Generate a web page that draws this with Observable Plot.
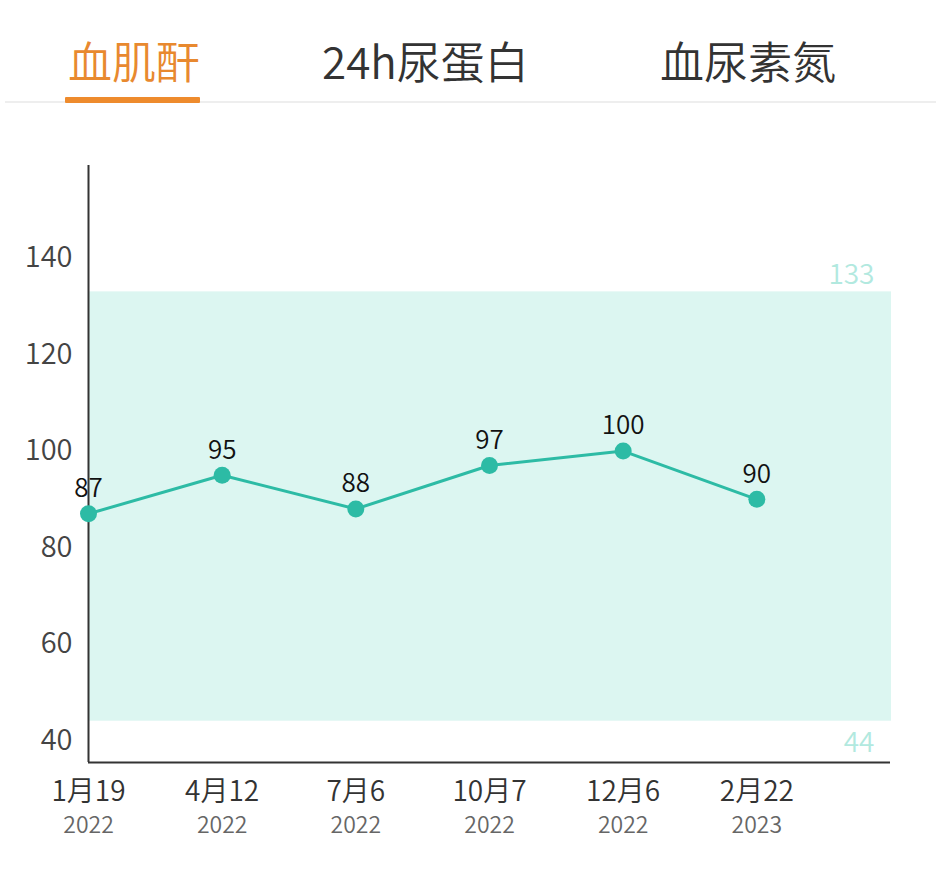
<!DOCTYPE html>
<html>
<head>
<meta charset="utf-8">
<script src="https://cdn.jsdelivr.net/npm/d3@7"></script>
<script src="https://cdn.jsdelivr.net/npm/@observablehq/plot@0.6"></script>
<style>
  html, body { margin: 0; padding: 0; background: #ffffff; }
  body { width: 941px; height: 874px; position: relative; overflow: hidden; font-family: "Noto Sans CJK SC", "Noto Sans", sans-serif; }
  #tabs { position: absolute; left: 0; top: 0; width: 941px; height: 105px; }
  .tab { position: absolute; top: 38px; font-size: 44px; line-height: 44px; color: #333; white-space: nowrap; font-weight: 350; }
  .tab.active { color: #e8892f; }
  #underline { position: absolute; left: 65px; top: 97px; width: 135px; height: 6px; background: #ee8b2d; border-radius: 1px; }
  #sep { position: absolute; left: 5px; top: 101px; width: 931px; height: 2px; background: #eeeeee; }
  #chart { position: absolute; left: 0; top: 105px; }
</style>
</head>
<body>
<div id="tabs"></div>
<div id="chart"></div>
<script>
const tabs = ["血肌酐", "24h尿蛋白", "血尿素氮"];
const tabLeft = [68, 322, 660];
const dates = ["1月19", "4月12", "7月6", "10月7", "12月6", "2月22"];
const years = ["2022", "2022", "2022", "2022", "2022", "2023"];
const values = [87, 95, 88, 97, 100, 90];
const refLow = 44;
const refHigh = 133;
const yTicks = [40, 60, 80, 100, 120, 140];

// tabs
const tabsEl = document.getElementById("tabs");
tabs.forEach((t, i) => {
  const d = document.createElement("div");
  d.className = "tab" + (i === 0 ? " active" : "");
  d.style.left = tabLeft[i] + "px";
  d.textContent = t;
  tabsEl.appendChild(d);
});
const sep = document.createElement("div"); sep.id = "sep"; tabsEl.appendChild(sep);
const ul = document.createElement("div"); ul.id = "underline"; tabsEl.appendChild(ul);

const data = dates.map((d, i) => ({i, date: d, year: years[i], value: values[i]}));
const yMin = 35.44, yMax = 159.2;

const chart = Plot.plot({
  width: 941,
  height: 769,
  marginTop: 60,
  marginBottom: 112,
  marginLeft: 88,
  marginRight: 51,
  style: {fontFamily: "'Noto Sans CJK SC', 'Noto Sans', sans-serif", fontWeight: 350, background: "transparent"},
  x: {domain: [0, 6], axis: null},
  y: {domain: [yMin, yMax], axis: null},
  marks: [
    Plot.rectY([{a: refLow, b: refHigh}], {x1: 0, x2: 6, y1: "a", y2: "b", fill: "#dcf6f1", dx: 1}),
    Plot.text([refHigh], {x: 6, y: d => d, text: d => String(d), textAnchor: "end", dx: -16, dy: -17, fontSize: 28, fill: "#b2e9df"}),
    Plot.text([refLow], {x: 6, y: d => d, text: d => String(d), textAnchor: "end", dx: -16, dy: 22, fontSize: 28, fill: "#b2e9df"}),
    Plot.axisY({ticks: yTicks, tickSize: 0, tickPadding: 16, fontSize: 29, color: "#444", label: null, tickFormat: d => String(d)}),
    Plot.ruleX([0], {stroke: "#333", strokeWidth: 2}),
    Plot.ruleY([yMin], {stroke: "#333", strokeWidth: 2}),
    Plot.text(data, {x: "i", text: "date", frameAnchor: "bottom", dy: 38, fontSize: 28, fill: "#333"}),
    Plot.text(data, {x: "i", text: "year", frameAnchor: "bottom", dy: 70, fontSize: 23, fill: "#666"}),
    Plot.line(data, {x: "i", y: "value", stroke: "#2dbba5", strokeWidth: 3}),
    Plot.dot(data, {x: "i", y: "value", r: 8.5, fill: "#2dbba5", stroke: "none"}),
    Plot.text(data, {x: "i", y: "value", text: d => String(d.value), dy: -25, fontSize: 26, fill: "#111"})
  ]
});
document.getElementById("chart").appendChild(chart);
</script>
</body>
</html>
